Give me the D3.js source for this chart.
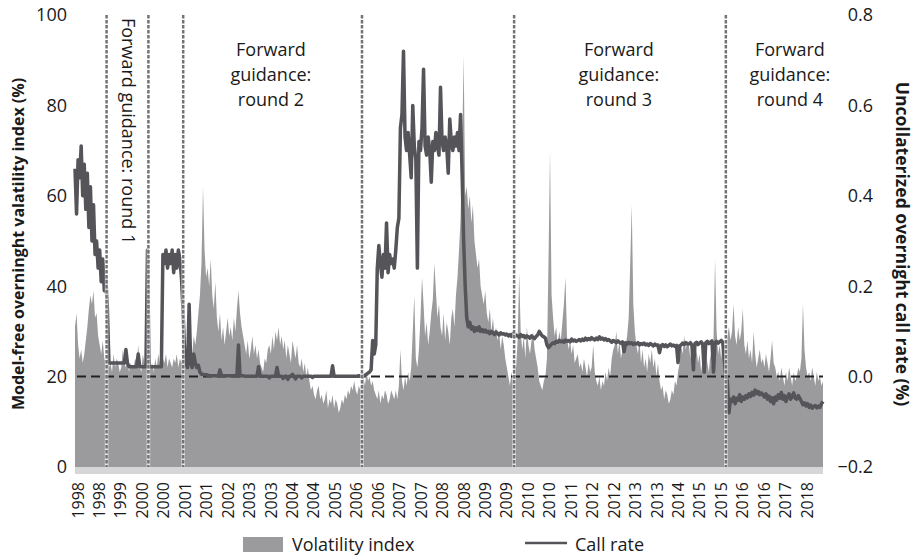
<!DOCTYPE html>
<html>
<head>
<meta charset="utf-8">
<script src="https://cdn.jsdelivr.net/npm/d3@7"></script>
<style>
  body { margin: 0; background: #fff; }
  svg { display: block; font-family: "Open Sans", sans-serif; fill: #1a1a1a; }
</style>
</head>
<body>
<svg id="chart" width="920" height="556"></svg>
<script>
// two observations a month, first one in June 1998
const startDate = 1998 + 5 / 12;
const perYear = 24;

// model-free overnight volatility index (%), one row per year
const volatility = [
  31, 34, 27, 24, 26, 23, 25, 28, 31, 35, 38, 36, 39, 33,
  34, 29, 27, 25, 28, 24, 23, 26, 22, 23, 21, 25, 22, 24, 23, 21, 22, 26, 23, 22, 24, 21, 23, 22,
  22, 24, 23, 27, 22, 21, 25, 23, 22, 24, 26, 22, 23, 21, 24, 22, 25, 23, 22, 24, 23, 25, 22, 24,
  23, 22, 24, 23, 25, 22, 24, 23, 26, 25, 27, 24, 26, 28, 25, 29, 27, 30, 34, 38, 45, 62, 48, 42,
  44, 40, 46, 38, 35, 41, 33, 30, 34, 28, 31, 27, 30, 33, 29, 31, 28, 33, 30, 35, 39, 34, 31, 29,
  27, 25, 28, 24, 26, 29, 25, 27, 24, 26, 23, 22, 21, 24, 23, 26, 27, 25, 29, 26, 30, 28, 31, 27,
  29, 26, 28, 24, 27, 25, 23, 28, 26, 24, 27, 23, 22, 24, 21, 23, 20, 22, 19, 17, 18, 16, 15, 17,
  18, 15, 16, 14, 15, 17, 13, 15, 14, 16, 13, 15, 14, 12, 13, 15, 14, 16, 15, 17, 16, 18, 17, 19,
  17, 16, 18, 17, 19, 20, 18, 21, 19, 20, 18, 19, 17, 16, 15, 17, 14, 16, 15, 17, 16, 14, 15, 17,
  16, 15, 17, 15, 18, 26, 19, 17, 20, 18, 21, 19, 22, 30, 38, 24, 22, 26, 33, 42, 36, 29, 32, 27,
  30, 34, 37, 45, 39, 33, 36, 31, 29, 34, 28, 32, 30, 27, 33, 35, 31, 38, 42, 48, 55, 70, 91, 60,
  62, 57, 60, 54, 58, 50, 47, 44, 46, 40, 38, 36, 39, 34, 32, 35, 30, 33, 29, 31, 28, 30, 26, 29,
  27, 24, 22, 20, 18, 21, 19, 23, 22, 28, 43, 30, 26, 29, 24, 31, 27, 25, 28, 30, 26, 24, 22, 19,
  18, 17, 19, 20, 24, 45, 70, 38, 33, 29, 31, 27, 30, 28, 32, 36, 42, 29, 26, 28, 25, 27, 23, 24,
  25, 22, 23, 21, 24, 22, 20, 23, 21, 22, 27, 21, 19, 18, 20, 17, 19, 18, 21, 19, 22, 20, 24, 26,
  27, 30, 25, 28, 24, 26, 25, 27, 29, 33, 45, 58, 36, 30, 27, 25, 28, 23, 26, 22, 24, 21, 25, 23,
  26, 22, 24, 20, 23, 19, 17, 18, 15, 17, 16, 14, 15, 17, 16, 19, 18, 21, 23, 27, 25, 29, 26, 28,
  27, 24, 28, 25, 22, 26, 23, 25, 21, 24, 22, 26, 23, 21, 25, 22, 28, 46, 30, 25, 27, 24, 28, 26,
  27, 29, 31, 28, 30, 36, 29, 27, 31, 28, 30, 35, 27, 25, 28, 24, 26, 23, 30, 25, 22, 24, 26, 23,
  24, 22, 25, 23, 21, 24, 28, 23, 22, 20, 21, 19, 22, 20, 18, 21, 19, 22, 20, 18, 21, 19, 20, 22,
  21, 24, 36, 26, 22, 20, 21, 19, 22, 20, 18, 21, 19, 20, 18, 19
];

// uncollateralized overnight call rate (%), same dates
const callRate = [
  0.46, 0.36, 0.48, 0.44, 0.51, 0.40, 0.47, 0.37, 0.45, 0.33, 0.42, 0.30, 0.38, 0.27,
  0.30, 0.24, 0.28, 0.21, 0.26, 0.19, 0.22, 0.15, 0.03, 0.03, 0.03, 0.03, 0.03, 0.03, 0.03, 0.03, 0.03, 0.03, 0.03, 0.06, 0.03, 0.022, 0.022, 0.022,
  0.022, 0.022, 0.022, 0.05, 0.022, 0.022, 0.022, 0.022, 0.022, 0.28, 0.022, 0.022, 0.022, 0.022, 0.022, 0.022, 0.022, 0.022, 0.022, 0.27, 0.25, 0.28, 0.24, 0.27,
  0.25, 0.28, 0.23, 0.27, 0.24, 0.28, 0.26, 0.22, 0.15, 0.06, 0.03, 0.02, 0.16, 0.03, 0.02, 0.05, 0.03, 0.02, 0.025, 0.01, 0.005, 0.005, 0.004, 0.004,
  0.003, 0.002, 0.002, 0.002, 0.002, 0.002, 0.002, 0.002, 0.015, 0.002, 0.002, 0.002, 0.002, 0.002, 0.002, 0.002, 0.002, 0.002, 0.002, 0.002, 0.07, 0.002, 0.002, 0.002,
  0.001, 0.001, 0.001, 0.001, 0.001, 0.001, 0.001, 0.001, 0.001, 0.022, 0.001, 0.001, 0.001, 0.001, 0.001, 0.001, -0.003, 0.001, 0.001, 0.001, 0.001, 0.02, 0.001, 0.001,
  0.001, -0.004, 0.001, 0.001, -0.006, 0.001, 0.001, 0.005, 0.001, -0.005, 0.001, 0.001, 0.001, -0.003, 0.001, 0.001, 0.001, 0.001, 0.001, 0.001, -0.002, 0.001, 0.001, 0.001,
  0.001, 0.001, 0.001, 0.001, 0.001, 0.001, 0.001, 0.001, 0.001, 0.024, 0.001, 0.001, 0.001, 0.001, 0.001, 0.001, 0.001, 0.001, 0.001, 0.001, 0.001, 0.001, 0.001, 0.001,
  0.001, 0.001, 0.002, 0.001, 0.001, 0.002, 0.003, 0.005, 0.008, 0.01, 0.015, 0.08, 0.05, 0.07, 0.24, 0.29, 0.25, 0.22, 0.27, 0.24, 0.34, 0.23, 0.27, 0.25,
  0.26, 0.24, 0.28, 0.33, 0.35, 0.55, 0.58, 0.72, 0.53, 0.50, 0.54, 0.49, 0.44, 0.60, 0.51, 0.48, 0.24, 0.52, 0.50, 0.55, 0.68, 0.51, 0.49, 0.53,
  0.50, 0.43, 0.52, 0.50, 0.54, 0.51, 0.49, 0.64, 0.52, 0.50, 0.53, 0.51, 0.45, 0.57, 0.52, 0.50, 0.53, 0.51, 0.54, 0.50, 0.58, 0.45, 0.30, 0.20,
  0.13, 0.11, 0.12, 0.105, 0.11, 0.10, 0.108, 0.102, 0.11, 0.10, 0.104, 0.099, 0.103, 0.098, 0.10, 0.095, 0.10, 0.097, 0.093, 0.099, 0.095, 0.092, 0.097, 0.094,
  0.095, 0.092, 0.094, 0.09, 0.093, 0.089, 0.095, 0.088, 0.092, 0.09, 0.087, 0.093, 0.089, 0.091, 0.086, 0.09, 0.088, 0.085, 0.09, 0.087, 0.084, 0.089, 0.092, 0.10,
  0.095, 0.09, 0.088, 0.085, 0.07, 0.064, 0.068, 0.072, 0.075, 0.073, 0.078, 0.076, 0.08, 0.077, 0.079, 0.076, 0.081, 0.078, 0.08, 0.077, 0.083, 0.079, 0.081, 0.078,
  0.08, 0.082, 0.079, 0.083, 0.08, 0.085, 0.081, 0.084, 0.082, 0.086, 0.083, 0.081, 0.085, 0.082, 0.088, 0.083, 0.085, 0.081, 0.084, 0.08, 0.082, 0.079, 0.076, 0.08,
  0.078, 0.075, 0.079, 0.076, 0.074, 0.077, 0.055, 0.075, 0.072, 0.076, 0.073, 0.075, 0.071, 0.074, 0.072, 0.075, 0.07, 0.073, 0.071, 0.074, 0.07, 0.072, 0.069, 0.073,
  0.071, 0.068, 0.072, 0.069, 0.07, 0.053, 0.068, 0.071, 0.067, 0.07, 0.066, 0.069, 0.072, 0.068, 0.07, 0.067, 0.069, 0.031, 0.068, 0.07, 0.074, 0.071, 0.075, 0.072,
  0.072, 0.075, 0.07, 0.015, 0.073, 0.076, 0.071, 0.074, 0.077, 0.072, 0.01, 0.075, 0.078, 0.073, 0.076, 0.079, 0.01, 0.075, 0.078, 0.074, 0.077, 0.08, 0.076, 0.037,
  0.0, -0.01, -0.08, -0.05, -0.055, -0.045, -0.06, -0.048, -0.052, -0.04, -0.055, -0.045, -0.05, -0.042, -0.047, -0.038, -0.044, -0.035, -0.041, -0.03, -0.038, -0.033, -0.04, -0.036,
  -0.04, -0.045, -0.038, -0.05, -0.043, -0.055, -0.047, -0.06, -0.045, -0.052, -0.04, -0.048, -0.035, -0.05, -0.042, -0.055, -0.045, -0.038, -0.05, -0.044, -0.036, -0.048, -0.05, -0.042,
  -0.048, -0.055, -0.062, -0.058, -0.065, -0.06, -0.068, -0.063, -0.07, -0.066, -0.064, -0.069, -0.065, -0.068, -0.06, -0.055
];

const xTickLabels = ["1998", "1998", "1999", "2000", "2000", "2001", "2001", "2002", "2003",
  "2003", "2004", "2004", "2005", "2006", "2006", "2007", "2007", "2008", "2008", "2009",
  "2009", "2010", "2010", "2011", "2012", "2012", "2013", "2013", "2014", "2015", "2015",
  "2016", "2016", "2017", "2018"];
const leftTicks = [0, 20, 40, 60, 80, 100];
const rightTicks = [-0.2, 0, 0.2, 0.4, 0.6, 0.8];

// dates (decimal years) of the forward guidance boundaries
const guidanceDates = [1999.27, 2000.40, 2001.34, 2006.17, 2010.28, 2016.0];
const guidanceLabels = [
  { at: 2003.71, lines: ["Forward", "guidance:", "round 2"] },
  { at: 2013.11, lines: ["Forward", "guidance:", "round 3"] },
  { at: 2017.73, lines: ["Forward", "guidance:", "round 4"] }
];

const volColor = "#9b9b9e",
    rateColor = "#545459";

const svg = d3.select("#chart");
const date = i => startDate + i / perYear;

const x = d3.scaleLinear()
    .domain([startDate, date(volatility.length - 1)])
    .range([75, 823]);
const yLeft = d3.scaleLinear().domain([0, 100]).range([467, 15]);
const yRight = d3.scaleLinear().domain([-0.2, 0.8]).range([467, 15]);
const xTicks = d3.scalePoint()
    .domain(d3.range(xTickLabels.length))
    .range([78, 807]);

// volatility area
svg.append("path")
    .datum(volatility)
    .attr("fill", volColor)
    .attr("d", d3.area()
        .x((d, i) => x(date(i)))
        .y0(yLeft(0))
        .y1(d => yLeft(d)));

// light band under the plot
svg.append("rect")
    .attr("x", x.range()[0])
    .attr("y", yLeft(0))
    .attr("width", x.range()[1] - x.range()[0])
    .attr("height", 7)
    .attr("fill", "#d6d6d8");

// zero call rate line
svg.append("line")
    .attr("x1", x.range()[0] + 2).attr("x2", x.range()[1])
    .attr("y1", yRight(0)).attr("y2", yRight(0))
    .attr("stroke", "#222")
    .attr("stroke-width", 2)
    .attr("stroke-dasharray", "9,5");

// call rate
svg.append("path")
    .datum(callRate)
    .attr("fill", "none")
    .attr("stroke", rateColor)
    .attr("stroke-width", 3.5)
    .attr("stroke-linejoin", "round")
    .attr("d", d3.line()
        .x((d, i) => x(date(i)))
        .y(d => yRight(d)));

// forward guidance boundaries
const guides = svg.append("g");
guides.selectAll("line.under")
    .data(guidanceDates)
    .join("line")
    .attr("class", "under")
    .attr("x1", d => x(d)).attr("x2", d => x(d))
    .attr("y1", yLeft(100)).attr("y2", yLeft(0))
    .attr("stroke", "#fff")
    .attr("stroke-opacity", 0.75)
    .attr("stroke-width", 3.5);
guides.selectAll("line.dash")
    .data(guidanceDates)
    .join("line")
    .attr("class", "dash")
    .attr("x1", d => x(d)).attr("x2", d => x(d))
    .attr("y1", yLeft(100)).attr("y2", yLeft(0))
    .attr("stroke", "#737376")
    .attr("stroke-width", 2.5)
    .attr("stroke-dasharray", "3.5,1.5");

// round labels
svg.append("text")
    .attr("transform", `translate(${(x(guidanceDates[0]) + x(guidanceDates[1])) / 2 + 1},18) rotate(90)`)
    .attr("dy", "0.35em")
    .style("font-size", "18px")
    .text("Forward guidance: round 1");

guidanceLabels.forEach(g => {
    const t = svg.append("text")
        .attr("text-anchor", "middle")
        .style("font-size", "18px");
    g.lines.forEach((line, i) => {
        t.append("tspan")
            .attr("x", x(g.at))
            .attr("y", 56 + i * 25)
            .text(line);
    });
});

// axes labels
svg.append("g")
    .selectAll("text")
    .data(leftTicks)
    .join("text")
    .attr("x", 67)
    .attr("y", d => yLeft(d))
    .attr("dy", "0.35em")
    .attr("text-anchor", "end")
    .style("font-size", "18px")
    .text(d => d);

svg.append("g")
    .selectAll("text")
    .data(rightTicks)
    .join("text")
    .attr("x", 873)
    .attr("y", d => yRight(d))
    .attr("dy", "0.35em")
    .attr("text-anchor", "end")
    .style("font-size", "18px")
    .text(d3.format(".1f"));

svg.append("g")
    .selectAll("text")
    .data(xTickLabels)
    .join("text")
    .attr("transform", (d, i) => `translate(${xTicks(i)},482) rotate(-90)`)
    .attr("dy", "0.35em")
    .attr("text-anchor", "end")
    .style("font-size", "16px")
    .text(d => d);

svg.append("text")
    .attr("transform", "translate(18,244) rotate(-90)")
    .attr("dy", "0.35em")
    .attr("text-anchor", "middle")
    .style("font-size", "16px")
    .style("font-weight", "bold")
    .text("Model-free overninght valatility index (%)");

svg.append("text")
    .attr("transform", "translate(902,244) rotate(90)")
    .attr("dy", "0.35em")
    .attr("text-anchor", "middle")
    .style("font-size", "17.5px")
    .style("font-weight", "bold")
    .text("Uncollaterized overnight call rate (%)");

// legend
const legend = svg.append("g").style("font-size", "18px");
legend.append("rect")
    .attr("x", 243).attr("y", 537)
    .attr("width", 40).attr("height", 15)
    .attr("fill", volColor);
legend.append("text").attr("x", 292).attr("y", 551).text("Volatility index");
legend.append("line")
    .attr("x1", 525).attr("x2", 567)
    .attr("y1", 543).attr("y2", 543)
    .attr("stroke", rateColor)
    .attr("stroke-width", 2.5);
legend.append("text").attr("x", 575).attr("y", 551).text("Call rate");
</script>
</body>
</html>
